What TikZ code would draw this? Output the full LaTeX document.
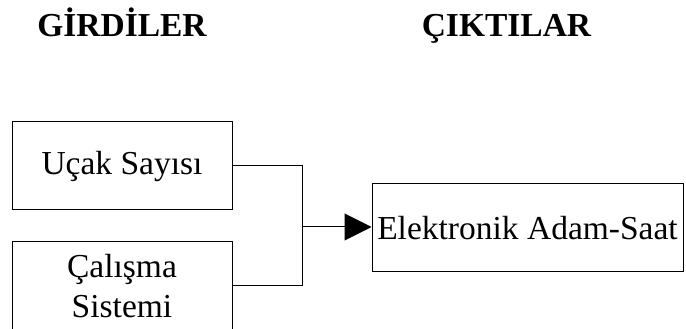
\documentclass[tikz,border=0pt]{standalone}
\usepackage{fontspec}
\setmainfont{Liberation Serif}
\usetikzlibrary{arrows.meta}
\begin{document}
\begin{tikzpicture}[x=1pt,y=1pt,
  box/.style={draw,line width=1pt,minimum width=220pt,minimum height=88pt,inner sep=0pt,align=center,font=\fontsize{33.5}{40}\selectfont},
  title/.style={anchor=base,inner sep=0pt,font=\fontsize{33.5}{40}\selectfont\bfseries},
  conn/.style={line width=1pt}]
\clip (0,0) rectangle (686,329);
\fill[white] (0,0) rectangle (686,329);
\node[title] (t1) at (122,292) {GİRDİLER};
\node[title] (t2) at (506.5,292) {ÇIKTILAR};
\node[box] (b1) at (122,163) {Uçak Sayısı};
\node[box] (b2) at (122,43) {Çalışma\\Sistemi};
\node[box,minimum width=311pt] (b3) at (527.5,101) {Elektronik Adam-Saat};
\coordinate (j) at (302,102);
\draw[conn] (b1.east) -| (j);
\draw[conn] (b2.east) -| (j);
\draw[conn,-{Triangle[length=27pt,width=27pt]}] (j) -- (b3.west |- j);
\end{tikzpicture}
\end{document}
